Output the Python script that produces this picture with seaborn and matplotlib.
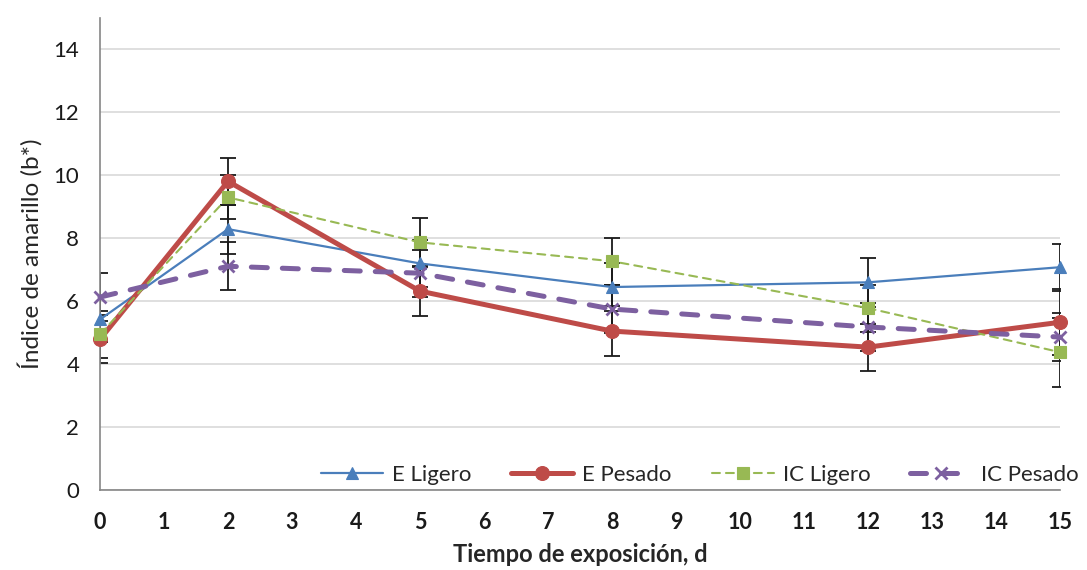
import matplotlib
matplotlib.use("Agg")
import matplotlib.pyplot as plt
import seaborn as sns
import pandas as pd

# Exposure time (days)
dias = [0, 2, 5, 8, 12, 15]

# Yellowness index b* per treatment
e_ligero = [5.42, 8.29, 7.20, 6.45, 6.60, 7.08]
e_pesado = [4.79, 9.81, 6.32, 5.05, 4.54, 5.33]
ic_ligero = [4.95, 9.30, 7.87, 7.27, 5.78, 4.38]
ic_pesado = [6.13, 7.11, 6.89, 5.75, 5.18, 4.86]

# Error bar half-widths
err_e_ligero = [0.73, 0.78, 0.76, 0.75, 0.78, 0.75]
err_e_pesado = [0.76, 0.75, 0.80, 0.80, 0.75, 1.05]
err_ic_ligero = [0.75, 0.70, 0.78, 0.75, 0.75, 1.10]
err_ic_pesado = [0.76, 0.76, 0.75, 0.75, 0.75, 0.76]

series_names = ["E Ligero", "E Pesado", "IC Ligero", "IC Pesado"]
x_ticks = list(range(0, 16))
y_ticks = [0, 2, 4, 6, 8, 10, 12, 14]

sns.set_style("white")
plt.rcParams["font.family"] = ["Lato", "DejaVu Sans"]

fig = plt.figure(figsize=(10.87, 5.70), dpi=100)
ax = fig.add_axes([100 / 1087, 80 / 570, 960 / 1087, 472 / 570])

styles = {
    "E Ligero": dict(color="#4A7EBB", marker="^", lw=1.6, ms=9, ls="-"),
    "E Pesado": dict(color="#BE4B48", marker="o", lw=3.6, ms=10, ls="-"),
    "IC Ligero": dict(color="#98B954", marker="s", lw=1.5, ms=8.5, ls=(0, (3.8, 2.9))),
    "IC Pesado": dict(color="#7D60A0", marker="x", lw=3.6, ms=8, ls=(0, (3.2, 3.0))),
}
values = {"E Ligero": e_ligero, "E Pesado": e_pesado,
          "IC Ligero": ic_ligero, "IC Pesado": ic_pesado}
errors = {"E Ligero": err_e_ligero, "E Pesado": err_e_pesado,
          "IC Ligero": err_ic_ligero, "IC Pesado": err_ic_pesado}

# error bars underneath the lines
for name in series_names:
    ax.errorbar(dias, values[name], yerr=errors[name], fmt="none",
                ecolor="#1a1a1a", elinewidth=1.3, capsize=6, capthick=1.3,
                zorder=2)

for i, name in enumerate(series_names):
    st = styles[name]
    df = pd.DataFrame({"dia": dias, "b": values[name]})
    sns.lineplot(data=df, x="dia", y="b", ax=ax, color=st["color"],
                 marker=st["marker"], markersize=st["ms"], linewidth=st["lw"],
                 linestyle=st["ls"], markeredgecolor=st["color"],
                 markeredgewidth=2.0 if st["marker"] == "x" else 0.8,
                 dash_capstyle="round", label=name, zorder=3 + i,
                 clip_on=False)

ax.set_xlim(0, 15)
ax.set_ylim(0, 15)
ax.set_xticks(x_ticks)
ax.set_yticks(y_ticks)
ax.set_xticklabels([str(t) for t in x_ticks], fontweight="bold", fontsize=15.5)
ax.set_yticklabels([str(t) for t in y_ticks], fontsize=16)

ax.yaxis.grid(True, color="#D9D9D9", lw=1.2)
ax.xaxis.grid(False)
ax.set_axisbelow(True)

for side in ["top", "right"]:
    ax.spines[side].set_visible(False)
for side in ["left", "bottom"]:
    ax.spines[side].set_color("#868686")
    ax.spines[side].set_linewidth(1.2)

ax.tick_params(axis="both", direction="out", length=6, width=1.2,
               color="#868686", labelcolor="#1a1a1a")
ax.tick_params(axis="x", pad=10)
ax.tick_params(axis="y", pad=9)

ax.set_xlabel("Tiempo de exposición, d", fontsize=17, fontweight="bold",
              labelpad=7)
ax.set_ylabel("Índice de amarillo (b*)", fontsize=17.5, labelpad=8)

leg = ax.legend(loc="lower right", bbox_to_anchor=(1.036, -0.022), ncol=4,
                frameon=False, fontsize=16, handlelength=2.8,
                columnspacing=1.8, handletextpad=0.4, borderaxespad=0.3)

fig.savefig("out.png", dpi=100)
